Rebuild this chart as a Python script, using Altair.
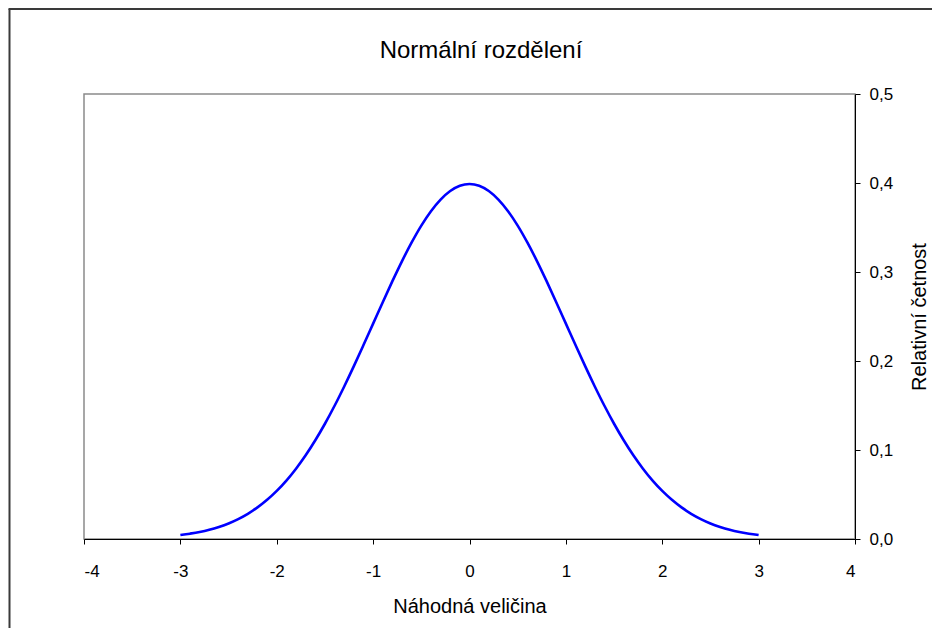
import altair as alt
import pandas as pd

# Values
x_vals = [-3.0, -2.9, -2.8, -2.7, -2.6, -2.5, -2.4, -2.3, -2.2, -2.1,
          -2.0, -1.9, -1.8, -1.7, -1.6, -1.5, -1.4, -1.3, -1.2, -1.1,
          -1.0, -0.9, -0.8, -0.7, -0.6, -0.5, -0.4, -0.3, -0.2, -0.1,
          0.0, 0.1, 0.2, 0.3, 0.4, 0.5, 0.6, 0.7, 0.8, 0.9,
          1.0, 1.1, 1.2, 1.3, 1.4, 1.5, 1.6, 1.7, 1.8, 1.9,
          2.0, 2.1, 2.2, 2.3, 2.4, 2.5, 2.6, 2.7, 2.8, 2.9, 3.0]
y_vals = [0.0044, 0.0060, 0.0079, 0.0104, 0.0136, 0.0175, 0.0224, 0.0283, 0.0355, 0.0440,
          0.0540, 0.0656, 0.0790, 0.0940, 0.1109, 0.1295, 0.1497, 0.1714, 0.1942, 0.2179,
          0.2420, 0.2661, 0.2897, 0.3123, 0.3332, 0.3521, 0.3683, 0.3814, 0.3910, 0.3970,
          0.3989, 0.3970, 0.3910, 0.3814, 0.3683, 0.3521, 0.3332, 0.3123, 0.2897, 0.2661,
          0.2420, 0.2179, 0.1942, 0.1714, 0.1497, 0.1295, 0.1109, 0.0940, 0.0790, 0.0656,
          0.0540, 0.0440, 0.0355, 0.0283, 0.0224, 0.0175, 0.0136, 0.0104, 0.0079, 0.0060, 0.0044]
x_ticks = [-4, -3, -2, -1, 0, 1, 2, 3, 4]
y_ticks = [0.0, 0.1, 0.2, 0.3, 0.4, 0.5]
chart_title = "Normální rozdělení"

df = pd.DataFrame({"x": x_vals, "y": y_vals})
one = pd.DataFrame({"k": [0]})

FONT = "Liberation Sans"

line = alt.Chart(df).mark_line(color="#0000FF", strokeWidth=2.6, interpolate="monotone").encode(
    x=alt.X("x:Q",
            scale=alt.Scale(domain=[-4, 4], nice=False, zero=False),
            axis=alt.Axis(values=x_ticks, title="Náhodná veličina", grid=False,
                          domainColor="black", tickColor="black", tickSize=5,
                          labelPadding=19, labelFontSize=17, labelFont=FONT, labelColor="black",
                          labelExpr="toString(datum.value)",
                          titleFont=FONT, titleFontSize=20, titleFontWeight="normal",
                          titleColor="black", titleBaseline="alphabetic", titleY=73)),
    y=alt.Y("y:Q",
            scale=alt.Scale(domain=[0, 0.5], nice=False),
            axis=alt.Axis(orient="right", values=y_ticks, title="Relativní četnost", grid=False,
                          domainColor="black", tickColor="black", tickSize=5,
                          labelPadding=9, labelFontSize=17, labelFont=FONT, labelColor="black",
                          labelExpr="replace(format(datum.value, '.1f'), '.', ',')",
                          titleFont=FONT, titleFontSize=20, titleFontWeight="normal",
                          titleColor="black", titleAngle=270, titleBaseline="alphabetic",
                          titleX=70, titleY=222.5, titleAlign="center")),
)

title_mark = alt.Chart(one).mark_text(font=FONT, fontSize=24, color="black", align="center",
                                      baseline="alphabetic", clip=False).encode(
    x=alt.value(397), y=alt.value(-36), text=alt.value(chart_title))

border_left = alt.Chart(one).mark_rule(color="#3a3a3a", strokeWidth=2, clip=False).encode(
    x=alt.value(-74.5), y=alt.value(-85), y2=alt.value(545))
border_top = alt.Chart(one).mark_rule(color="#3a3a3a", strokeWidth=2, clip=False).encode(
    x=alt.value(-75.5), x2=alt.value(860), y=alt.value(-85))

chart = alt.layer(line, title_mark, border_left, border_top).properties(
    width=771, height=445,
    background="white",
    autosize=alt.AutoSizeParams(type="none"),
    padding={"left": 76, "top": 86, "right": 77, "bottom": 89},
).configure_view(stroke="#8a8a8a", strokeWidth=1.5)

chart.save("out.html", embed_options={"renderer": "svg", "actions": False})
